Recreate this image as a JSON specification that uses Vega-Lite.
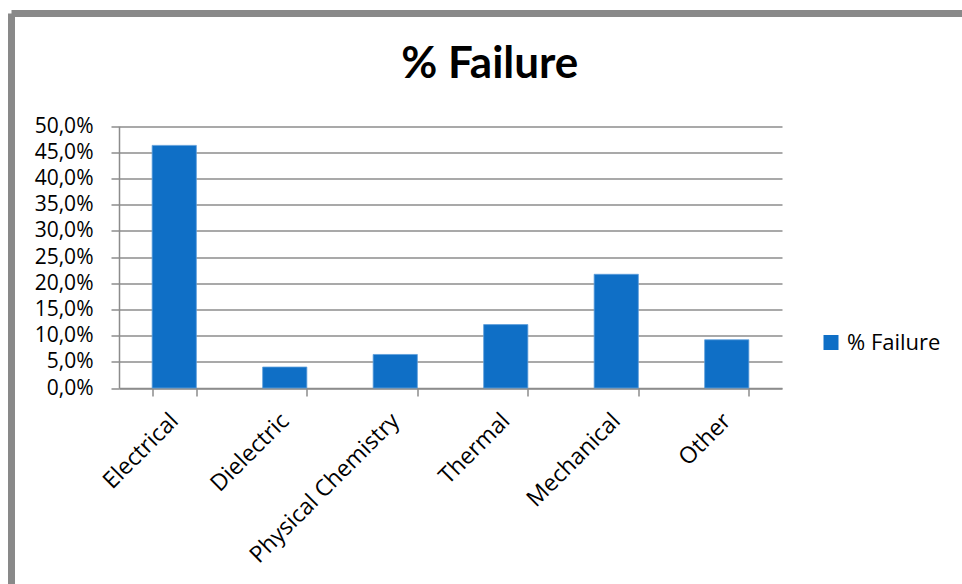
{
  "$schema": "https://vega.github.io/schema/vega-lite/v6.json",
  "autosize": "none",
  "padding": {"left": 11.5, "top": 13.5, "right": 0, "bottom": 0},
  "width": 950.5,
  "height": 570.5,
  "background": "white",
  "title": {
    "text": "% Failure",
    "font": "Lato",
    "fontSize": 44,
    "fontWeight": "bold",
    "color": "#000000",
    "anchor": "middle",
    "frame": "group",
    "dx": 3,
    "offset": -73
  },
  "data": {
    "values": [
      {"cause": "Electrical", "failure": 0.463},
      {"cause": "Dielectric", "failure": 0.040},
      {"cause": "Physical Chemistry", "failure": 0.064},
      {"cause": "Thermal", "failure": 0.121},
      {"cause": "Mechanical", "failure": 0.217},
      {"cause": "Other", "failure": 0.092}
    ]
  },
  "mark": {"type": "bar", "stroke": "#5E9EDB", "strokeWidth": 0.8},
  "encoding": {
    "x": {
      "field": "cause",
      "type": "nominal",
      "sort": null,
      "scale": {"range": [107.5, 770.5], "paddingInner": 0.6, "paddingOuter": 0.3},
      "axis": {
        "title": null,
        "orient": "bottom",
        "offset": -196,
        "tickBand": "extent",
        "labelAngle": -45,
        "labelAlign": "right",
        "labelBaseline": "middle",
        "labelFontSize": 23,
        "labelPadding": 21,
        "labelLimit": 0,
        "grid": false
      }
    },
    "y": {
      "field": "failure",
      "type": "quantitative",
      "scale": {"domain": [0, 0.5], "range": [374.5, 112.5], "nice": false, "zero": true},
      "axis": {
        "title": null,
        "orient": "left",
        "offset": -107.5,
        "values": [0, 0.05, 0.1, 0.15, 0.2, 0.25, 0.3, 0.35, 0.4, 0.45, 0.5],
        "labelExpr": "replace(format(datum.value, '.1%'), '.', ',')",
        "labelFontSize": 21,
        "labelPadding": 18,
        "grid": true
      }
    },
    "color": {
      "datum": "% Failure",
      "type": "nominal",
      "scale": {"range": ["#0F6FC6"]},
      "legend": {
        "title": null,
        "orient": "none",
        "legendX": 808.5,
        "legendY": 318,
        "padding": 0,
        "symbolType": "square",
        "symbolSize": 225,
        "symbolStrokeWidth": 0,
        "labelFont": "Open Sans",
        "labelFontSize": 22,
        "labelColor": "#000000",
        "labelOffset": 5
      }
    }
  },
  "config": {
    "view": {
      "stroke": "#898989",
      "strokeWidth": 7,
      "strokeDash": [950.5, 1521, 570.5, 0],
      "fill": "white"
    },
    "axis": {
      "labelFont": "Open Sans",
      "labelFontSize": 22,
      "labelColor": "#000000",
      "domainColor": "#8C8C8C",
      "domainWidth": 1.5,
      "tickColor": "#8C8C8C",
      "tickWidth": 1.5,
      "tickSize": 8,
      "gridColor": "#8C8C8C",
      "gridWidth": 1.5,
      "labelOverlap": false,
      "labelFlush": false
    }
  }
}
